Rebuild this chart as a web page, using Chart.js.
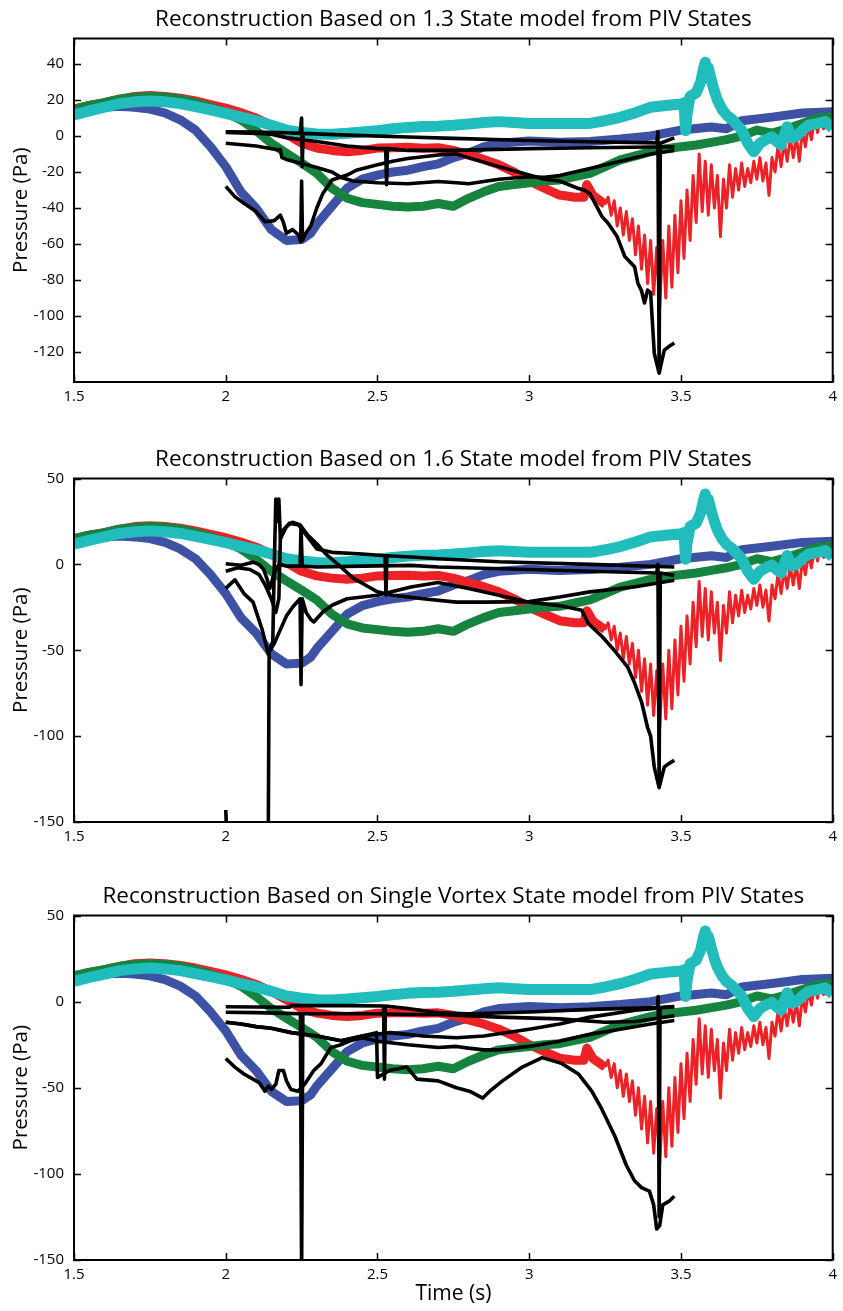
<!DOCTYPE html>
<html>
<head>
<meta charset="utf-8">
<script src="https://cdn.jsdelivr.net/npm/chart.js@4.4.1/dist/chart.umd.min.js"></script>
<style>
  body { margin: 0; background: #fff; }
  .panel { position: absolute; left: 0; width: 843px; }
</style>
</head>
<body>
<div class="panel" style="top:0;height:430px"><canvas id="c1"></canvas></div>
<div class="panel" style="top:440px;height:430px"><canvas id="c2"></canvas></div>
<div class="panel" style="top:877px;height:434px"><canvas id="c3"></canvas></div>
<script>
// ticks
const xTicks = [1.5, 2, 2.5, 3, 3.5, 4];
const yTicksTop = [-120, -100, -80, -60, -40, -20, 0, 20, 40];
const yTicksLow = [-150, -100, -50, 0, 50];

const titles = [
  "Reconstruction Based on 1.3 State model from PIV States",
  "Reconstruction Based on 1.6 State model from PIV States",
  "Reconstruction Based on Single Vortex State model from PIV States"
];

// measured pressure, [time s, pressure Pa] (same in all three panels)
const blue = [[1.5,15],[1.55,15.5],[1.6,16],[1.65,16.5],[1.7,16],[1.75,15],[1.8,12.8],[1.85,9],[1.9,3.3],[1.95,-6],
  [2.0,-17],[2.05,-31],[2.1,-40],[2.15,-52],[2.2,-58],[2.25,-57.5],[2.28,-54],[2.3,-49],[2.35,-39],[2.4,-29],
  [2.45,-24],[2.5,-21.7],[2.55,-20],[2.6,-19],[2.65,-17],[2.7,-15.5],[2.75,-12],[2.8,-9.5],[2.85,-6],[2.9,-4],
  [3.0,-2.8],[3.1,-3.5],[3.2,-3],[3.3,-1.7],[3.4,0],[3.5,3.3],[3.6,5],[3.65,4],[3.7,8.5],[3.8,10.5],[3.9,12.8],[4.0,13.5]];

const red = [[1.5,15],[1.55,17],[1.6,18.5],[1.65,20.5],[1.7,22],[1.75,22.5],[1.8,22],[1.85,21],[1.9,19.5],[1.95,17.5],
  [2.0,15.5],[2.05,13],[2.1,10],[2.15,6],[2.2,1],[2.25,-4],[2.3,-6.7],[2.35,-8],[2.4,-8.7],[2.45,-8],[2.5,-6.7],
  [2.55,-6.5],[2.6,-6.3],[2.65,-6.8],[2.7,-6.5],[2.75,-8],[2.8,-10.6],[2.85,-13],[2.9,-16],[2.95,-20],[3.0,-25],
  [3.05,-29],[3.1,-32.8],[3.15,-34],[3.18,-34],[3.19,-27],[3.21,-33],[3.25,-38],
  [3.26,-34],[3.27,-44],[3.28,-36],[3.29,-50],[3.3,-40],[3.31,-55],[3.32,-42],[3.33,-58],[3.34,-46],[3.35,-66],
  [3.36,-50],[3.37,-74],[3.38,-55],[3.39,-82],[3.4,-58],[3.41,-88],[3.42,-62],[3.43,-95],[3.44,-58],[3.45,-90],
  [3.46,-50],[3.47,-84],[3.48,-44],[3.49,-76],[3.5,-36],[3.51,-68],[3.52,-30],[3.53,-58],[3.54,-22],[3.55,-48],
  [3.56,-10],[3.57,-42],[3.58,-14],[3.59,-44],[3.6,-16],[3.61,-40],[3.62,-22],[3.63,-56],[3.64,-24],[3.65,-40],
  [3.66,-16],[3.67,-34],[3.68,-18],[3.69,-30],[3.7,-15],[3.71,-28],[3.72,-18],[3.73,-26],[3.74,-14],[3.75,-24],
  [3.76,-12],[3.77,-25],[3.78,-15],[3.79,-33],[3.8,-12],[3.81,-20],[3.82,-5],[3.83,-17],[3.84,-3],[3.85,-14],
  [3.86,-1],[3.87,-12],[3.88,0],[3.89,-14],[3.9,3],[3.91,-6],[3.92,6],[3.93,-2],[3.94,10],[3.95,2],[3.96,11],
  [3.97,4],[3.98,12],[3.99,5],[4.0,10]];

const green = [[1.5,15],[1.55,17],[1.6,18.5],[1.65,20.5],[1.7,21.5],[1.75,22],[1.8,21.5],[1.85,20.5],[1.9,18.5],[1.95,16],
  [2.0,13],[2.05,9],[2.1,3],[2.15,-4],[2.2,-9.6],[2.25,-15],[2.3,-20.7],[2.35,-29],[2.4,-34.6],[2.45,-37],[2.5,-38],
  [2.55,-39],[2.6,-39.5],[2.65,-39],[2.7,-37.5],[2.75,-39],[2.8,-34.6],[2.85,-31],[2.9,-28],[2.95,-27],[3.0,-26],
  [3.05,-25],[3.1,-24.4],[3.15,-22.5],[3.2,-20.7],[3.25,-17],[3.3,-13.3],[3.35,-11],[3.4,-8.7],[3.45,-7],[3.5,-6],
  [3.55,-5],[3.6,-3.5],[3.65,-2],[3.7,0],[3.75,3.3],[3.8,1.6],[3.85,4],[3.9,7],[3.95,10],[4.0,10.7]];

const cyan = [[1.5,11.7],[1.55,14],[1.6,16],[1.65,18],[1.7,19],[1.75,19.5],[1.8,19],[1.85,18],[1.9,16.3],[1.95,14.5],
  [2.0,12.6],[2.05,10.5],[2.1,8.5],[2.15,6],[2.2,3.3],[2.25,2],[2.3,1.1],[2.35,1],[2.4,1.5],[2.45,2.2],[2.5,3],
  [2.55,4],[2.6,4.8],[2.65,5.3],[2.7,5.5],[2.75,6],[2.8,6.7],[2.85,7.5],[2.9,8],[2.95,7.5],[3.0,7],[3.1,7],[3.2,7],
  [3.25,8.5],[3.3,10.4],[3.35,13],[3.4,16],[3.45,17],[3.5,17.8],[3.51,18.5],[3.515,3],[3.52,12],[3.53,22],[3.55,24],
  [3.565,30],[3.575,38],[3.58,41],[3.585,36],[3.59,38],[3.6,31],[3.61,25],[3.62,20],[3.635,15],[3.65,11.7],[3.67,9],
  [3.7,3.3],[3.72,-4],[3.74,-8.7],[3.76,-4],[3.78,-2],[3.8,-0.4],[3.815,-3],[3.83,-5],[3.85,5.2],[3.865,-1],[3.88,0],
  [3.9,3.3],[3.92,6],[3.95,7],[3.975,8],[4.0,4.4]];

// reconstructions, 1.3 state model
const top1 = [[2.0,2.4],[2.1,2.2],[2.2,1.8],[2.245,1.5],[2.25,10],[2.252,-17],[2.255,1.5],[2.4,0.5],[2.6,-0.5],[2.75,-1.3],
  [3.0,-2.5],[3.2,-3.2],[3.42,-3.8],[3.424,2.4],[3.428,-128],[3.432,-4],[3.478,-1]];
const top2 = [[2.0,2],[2.1,1.5],[2.15,1],[2.2,-1],[2.3,-3],[2.4,-5.5],[2.5,-7],[2.527,-7],[2.53,-27],[2.533,-7],[2.6,-8],
  [2.75,-8],[3.0,-7],[3.2,-6.5],[3.478,-6]];
const top3 = [[2.0,-4],[2.1,-5.5],[2.17,-7.6],[2.18,-7.5],[2.185,-12],[2.2,-13],[2.3,-17.5],[2.35,-20],[2.38,-23],[2.42,-25],
  [2.5,-26],[2.6,-26.5],[2.7,-25.3],[2.76,-26],[2.8,-26.5],[2.9,-24],[3.0,-22.6],[3.05,-23],[3.1,-22],[3.2,-18],[3.3,-14],
  [3.4,-10],[3.478,-8]];
const top4 = [[2.0,-28],[2.03,-33.7],[2.06,-37.4],[2.1,-42],[2.13,-47.6],[2.16,-47],[2.18,-44],[2.19,-48],[2.2,-54],[2.22,-52],
  [2.24,-55],[2.247,-58.7],[2.25,-25],[2.253,-58],[2.26,-55],[2.28,-50],[2.3,-40],[2.32,-31.9],[2.35,-24.4],[2.4,-21.7],
  [2.43,-19],[2.5,-16],[2.55,-14],[2.6,-12.5],[2.7,-10.5],[2.76,-10],[2.8,-12],[2.9,-17],[3.0,-21.7],[3.05,-24],[3.1,-25],
  [3.16,-29],[3.18,-30],[3.2,-32],[3.24,-44.8],[3.26,-48.5],[3.29,-56],[3.315,-67],[3.347,-72.6],[3.358,-81.8],[3.37,-86],
  [3.38,-92.8],[3.39,-85.6],[3.4,-87],[3.412,-120.7],[3.428,-131.8],[3.445,-119],[3.46,-117],[3.478,-115]];

// reconstructions, 1.6 state model
const mid1 = [[2.0,0.4],[2.05,-0.5],[2.09,1.3],[2.11,0],[2.125,-3],[2.135,-8],[2.145,-14],[2.16,-5],[2.175,0],[2.2,-1],
  [2.245,-1],[2.248,22],[2.252,-1],[2.3,-1.5],[2.45,-1],[2.61,-0.6],[2.7,-1.5],[3.0,-3],[3.2,-4],[3.42,-5],[3.424,0],
  [3.428,-125],[3.432,-5],[3.478,-6.4]];
const mid2 = [[2.0,-143],[2.005,-165],[2.14,-165],[2.143,-50],[2.155,-45],[2.16,0],[2.165,38],[2.17,25],[2.175,38],[2.18,15],
  [2.19,20],[2.21,24],[2.24,23],[2.27,16],[2.3,9],[2.35,7],[2.45,6],[2.525,5],[2.528,-18],[2.531,5],[2.61,4.3],[2.7,3.3],
  [2.9,1.5],[3.2,0],[3.478,-1.5]];
const mid3 = [[2.0,-4],[2.04,-2],[2.08,-3],[2.11,-6],[2.13,-12],[2.15,-20],[2.165,-28],[2.175,-20],[2.18,15],[2.2,22],
  [2.22,24.5],[2.245,23],[2.27,17],[2.3,12],[2.33,6],[2.37,0],[2.42,-8],[2.47,-13],[2.5,-16],[2.55,-18],[2.65,-20],
  [2.76,-22],[2.85,-22],[3.0,-21.7],[3.1,-19],[3.2,-16],[3.35,-13],[3.478,-9.3]];
const mid4 = [[2.0,-14],[2.03,-9],[2.06,-17],[2.09,-22],[2.12,-38],[2.14,-52],[2.16,-46],[2.18,-38],[2.2,-30],[2.22,-25],
  [2.245,-20],[2.248,-70],[2.252,-20],[2.265,-28],[2.28,-32],[2.29,-33.5],[2.32,-27.7],[2.35,-23.8],[2.4,-20],[2.5,-18],
  [2.61,-13.2],[2.7,-10.5],[2.8,-14],[2.9,-18],[3.0,-22],[3.1,-24],[3.173,-26.7],[3.195,-34.5],[3.24,-42],[3.28,-50],
  [3.325,-60],[3.347,-69],[3.37,-80],[3.39,-95],[3.4,-100],[3.412,-118],[3.428,-130],[3.445,-118],[3.46,-116],[3.478,-114]];

// reconstructions, single vortex model
const bot1 = [[2.0,-3],[2.1,-3.1],[2.21,-3.3],[2.215,-2.3],[2.4,-2.3],[2.52,-2.5],[2.523,-45],[2.526,-2.5],[2.6,-4],
  [2.7,-6.5],[2.8,-7],[3.0,-6],[3.2,-4.5],[3.422,-3.5],[3.425,3],[3.428,-125],[3.431,-3.5],[3.478,-2.9]];
const bot2 = [[2.0,-6.2],[2.1,-6.4],[2.2,-6.8],[2.246,-7],[2.25,-160],[2.254,-7],[2.4,-7],[2.5,-7],[2.6,-7.5],[2.7,-7.5],
  [2.9,-9],[3.1,-10],[3.25,-12],[3.35,-11.5],[3.478,-8.2]];
const bot3 = [[2.0,-12],[2.05,-13],[2.1,-14.5],[2.15,-15.5],[2.216,-18],[2.3,-20],[2.38,-22.7],[2.45,-20],[2.54,-18],
  [2.65,-20],[2.76,-21],[2.85,-20],[3.0,-16],[3.1,-13],[3.2,-9],[3.35,-5],[3.478,-2.9]];
const bot4 = [[2.0,-12],[2.05,-13],[2.1,-14.5],[2.15,-15.5],[2.216,-18],[2.3,-20],[2.38,-22.7],[2.45,-20],[2.497,-18],
  [2.5,-44],[2.54,-40],[2.597,-38],[2.63,-45],[2.7,-46],[2.76,-50],[2.803,-52],[2.847,-56],[2.87,-52],[2.912,-46],
  [2.977,-38],[3.043,-32.5],[3.108,-36],[3.162,-42],[3.206,-52],[3.238,-62],[3.282,-78],[3.32,-95],[3.347,-104],
  [3.37,-108],[3.396,-110],[3.41,-118],[3.42,-132],[3.43,-130],[3.44,-118],[3.46,-116],[3.478,-113]];
const bot5 = [[2.0,-33],[2.03,-38],[2.06,-42],[2.09,-45],[2.11,-47],[2.129,-52],[2.14,-49],[2.15,-51],[2.165,-48],
  [2.175,-40],[2.19,-40],[2.2,-46],[2.215,-51],[2.238,-52],[2.26,-48],[2.29,-40],[2.314,-36],[2.346,-26.7],[2.38,-25],
  [2.41,-22.7],[2.45,-21],[2.5,-23],[2.6,-25],[2.7,-26.6],[2.76,-26],[2.8,-27],[2.85,-28],[2.9,-28],[2.95,-27],
  [3.0,-26],[3.1,-23],[3.2,-19],[3.3,-16],[3.4,-13],[3.478,-11]];

const BLUE = "#3d52a4", RED = "#ec2227", GREEN = "#16843f", CYAN = "#21bdbd";
const FONT = "'Open Sans', 'Noto Sans', sans-serif";

const toXY = pairs => pairs.map(([x, y]) => ({ x, y }));

function lineSet(pairs, color, width, extra) {
  return Object.assign({
    data: toXY(pairs),
    borderColor: color,
    borderWidth: width,
    borderJoinStyle: "round",
    borderCapStyle: "butt",
    pointRadius: 0,
    tension: 0,
    fill: false,
    clip: 0
  }, extra || {});
}

// black box with inward ticks, like the original figure
const boxPlugin = {
  id: "matlabBox",
  afterDatasetsDraw(chart) {
    const { ctx, chartArea: a, scales: { x, y } } = chart;
    ctx.save();
    ctx.strokeStyle = "#000";
    ctx.lineWidth = 1.5;
    ctx.beginPath();
    x.ticks.forEach(t => {
      const p = Math.round(x.getPixelForValue(t.value)) + 0.5;
      ctx.moveTo(p, a.bottom); ctx.lineTo(p, a.bottom - 7);
      ctx.moveTo(p, a.top); ctx.lineTo(p, a.top + 7);
    });
    y.ticks.forEach(t => {
      const p = Math.round(y.getPixelForValue(t.value)) + 0.5;
      ctx.moveTo(a.left, p); ctx.lineTo(a.left + 7, p);
      ctx.moveTo(a.right, p); ctx.lineTo(a.right - 7, p);
    });
    ctx.stroke();
    ctx.lineWidth = 2;
    ctx.strokeRect(a.left, a.top, a.right - a.left, a.bottom - a.top);
    ctx.restore();
  }
};

function makeChart(id, title, blacks, yMin, yMax, yTicks, canvasH, bottomPx, xTitle) {
  const datasets = blacks.map(b => lineSet(b, "#000", 3.6));
  datasets.push(lineSet(cyan, CYAN, 11));
  datasets.push(lineSet(green, GREEN, 9));
  datasets.push(lineSet(red, RED, 9, {
    segment: { borderWidth: c => (c.p0.parsed.x >= 3.25 ? 3 : 9) }
  }));
  datasets.push(lineSet(blue, BLUE, 9));

  new Chart(document.getElementById(id), {
    type: "line",
    data: { datasets },
    options: {
      responsive: true,
      maintainAspectRatio: false,
      animation: false,
      events: [],
      layout: { padding: { left: 0, right: 3, top: 0, bottom: 0 } },
      plugins: {
        legend: { display: false },
        tooltip: { enabled: false },
        title: {
          display: true,
          text: title,
          fullSize: false,
          color: "#000",
          font: { family: FONT, size: 22.5, weight: "normal", lineHeight: 1.2 },
          padding: { top: 6, bottom: 5.5 }
        }
      },
      scales: {
        x: {
          type: "linear",
          min: 1.5,
          max: 4,
          grid: { display: false, drawTicks: false },
          border: { display: false },
          afterBuildTicks: s => { s.ticks = xTicks.map(v => ({ value: v })); },
          afterFit: s => { s.height = canvasH - bottomPx; },
          ticks: {
            color: "#000",
            padding: 6,
            maxRotation: 0,
            font: { family: FONT, size: 15 },
            callback: v => String(v)
          },
          title: {
            display: !!xTitle,
            text: xTitle || "",
            color: "#000",
            font: { family: FONT, size: 21 },
            padding: { top: 0, bottom: 4 }
          }
        },
        y: {
          type: "linear",
          min: yMin,
          max: yMax,
          grid: { display: false, drawTicks: false },
          border: { display: false },
          afterBuildTicks: s => { s.ticks = yTicks.map(v => ({ value: v })); },
          afterFit: s => { s.width = 74; },
          ticks: {
            color: "#000",
            padding: 10,
            font: { family: FONT, size: 15 },
            callback: v => String(v)
          },
          title: {
            display: true,
            text: "Pressure (Pa)",
            color: "#000",
            font: { family: FONT, size: 20.5 },
            padding: { top: 9, bottom: 0 }
          }
        }
      }
    },
    plugins: [boxPlugin]
  });
}

makeChart("c1", titles[0], [top1, top2, top3, top4], -136.7, 54.2, yTicksTop, 430, 382, null);
makeChart("c2", titles[1], [mid1, mid2, mid3, mid4], -150, 50, yTicksLow, 430, 382, null);
makeChart("c3", titles[2], [bot1, bot2, bot3, bot4, bot5], -150, 50, yTicksLow, 434, 383, "Time (s)");
</script>
</body>
</html>
